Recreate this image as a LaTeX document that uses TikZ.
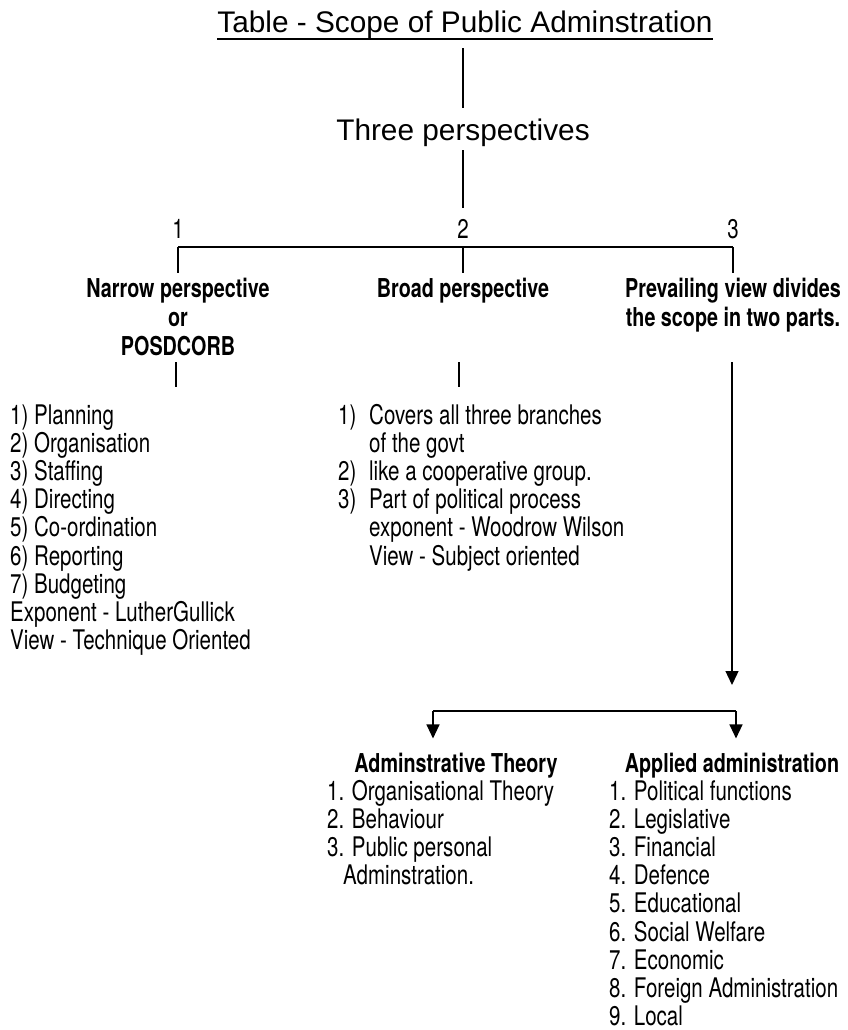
\documentclass[tikz,border=0pt]{standalone}
\usepackage{fontspec}
\setmainfont{TeX Gyre Heros}[FakeStretch=0.76]
\newfontfamily\titlefont{Liberation Sans}
\usetikzlibrary{arrows.meta}
\begin{document}
\begin{tikzpicture}[x=1pt,y=-1pt,
  line/.style={line width=1.3pt},
  arr/.style={line width=1.3pt,-{Triangle[width=13pt,length=14pt]}},
  big/.style={font=\titlefont\fontsize{29.8}{34}\selectfont, inner sep=0pt},
  txt/.style={font=\fontsize{27}{28.2}\selectfont, inner sep=0pt, align=left},
  hd/.style={font=\bfseries\fontsize{26}{29}\selectfont, inner sep=0pt, align=center},
]
\useasboundingbox (0,0) rectangle (848,1030);

% title and first level
\node[big, anchor=base] (title) at (465,33) {Table - Scope of Public Adminstration};
\draw[line width=1.5pt] ([yshift=-6pt]title.base west) -- ([yshift=-6pt]title.base east);
\node[big, anchor=base] (three) at (463,140) {Three perspectives};
\draw[line, shorten <=9pt, shorten >=10.5pt] (title.south -| three.south) -- (three.north);

% numbers and bar
\coordinate (j1) at (178,247);
\coordinate (j2) at (463,247);
\coordinate (j3) at (733,247);
\node[txt, anchor=base] (n1) at (178,238) {1};
\node[txt, anchor=base] (n2) at (463,238) {2};
\node[txt, anchor=base] (n3) at (733,238) {3};
\draw[line, shorten <=4pt, shorten >=11pt] (three.south) -- (n2.north);
\draw[line] (j1) -- (j3);

% headings (anchor base = baseline of last line)
\node[hd, anchor=base] (h1) at (178,355) {Narrow perspective\\or\\POSDCORB};
\node[hd, anchor=base] (h2) at (463,297) {Broad perspective};
\node[hd, anchor=base] (h3) at (733,326) {Prevailing view divides\\the scope in two parts.};
\draw[line, shorten >=4pt] (j1) -- (j1 |- h1.north);
\draw[line, shorten >=4pt] (j2) -- (j2 |- h2.north);
\draw[line, shorten >=4pt] (j3) -- (j3 |- h3.north);

% lists
\node[txt, anchor=base west] (l1) at (10,649.6) {1) Planning\\2) Organisation\\3) Staffing\\4) Directing\\5) Co-ordination\\6) Reporting\\7) Budgeting\\Exponent - LutherGullick\\View - Technique Oriented};
\node[txt, anchor=base west] (l2) at (338,565) {\makebox[31pt][l]{1)}Covers all three branches\\\hspace*{31pt}of the govt\\\makebox[31pt][l]{2)}like a cooperative group.\\\makebox[31pt][l]{3)}Part of political process\\\hspace*{31pt}exponent - Woodrow Wilson\\\hspace*{31pt}View - Subject oriented};

\coordinate (s1) at (176,362);
\coordinate (s2) at (459,362);
\coordinate (s3) at (732,362);
\draw[line, shorten >=17pt] (s1) -- (s1 |- l1.north);
\draw[line, shorten >=17pt] (s2) -- (s2 |- l2.north);

% split
\coordinate (b1) at (433,711);
\coordinate (b2) at (736,711);
\draw[arr, shorten >=26pt] (s3) -- (s3 |- b2);
\draw[line] (b1) -- (b2);

\node[hd, anchor=base] (t1) at (456,772) {Adminstrative Theory};
\node[hd, anchor=base] (t2) at (732,772) {Applied administration};
\draw[arr, shorten >=14pt] (b1) -- (b1 |- t1.north);
\draw[arr, shorten >=14pt] (b2) -- (b2 |- t2.north);

\node[txt, anchor=base west] (tl) at (327,884.6) {1. Organisational Theory\\2. Behaviour\\3. Public personal\\\hspace*{16pt}Adminstration.};
\node[txt, anchor=base west] (tr) at (609,1025.6) {1. Political functions\\2. Legislative\\3. Financial\\4. Defence\\5. Educational\\6. Social Welfare\\7. Economic\\8. Foreign Administration\\9. Local};
\end{tikzpicture}
\end{document}
